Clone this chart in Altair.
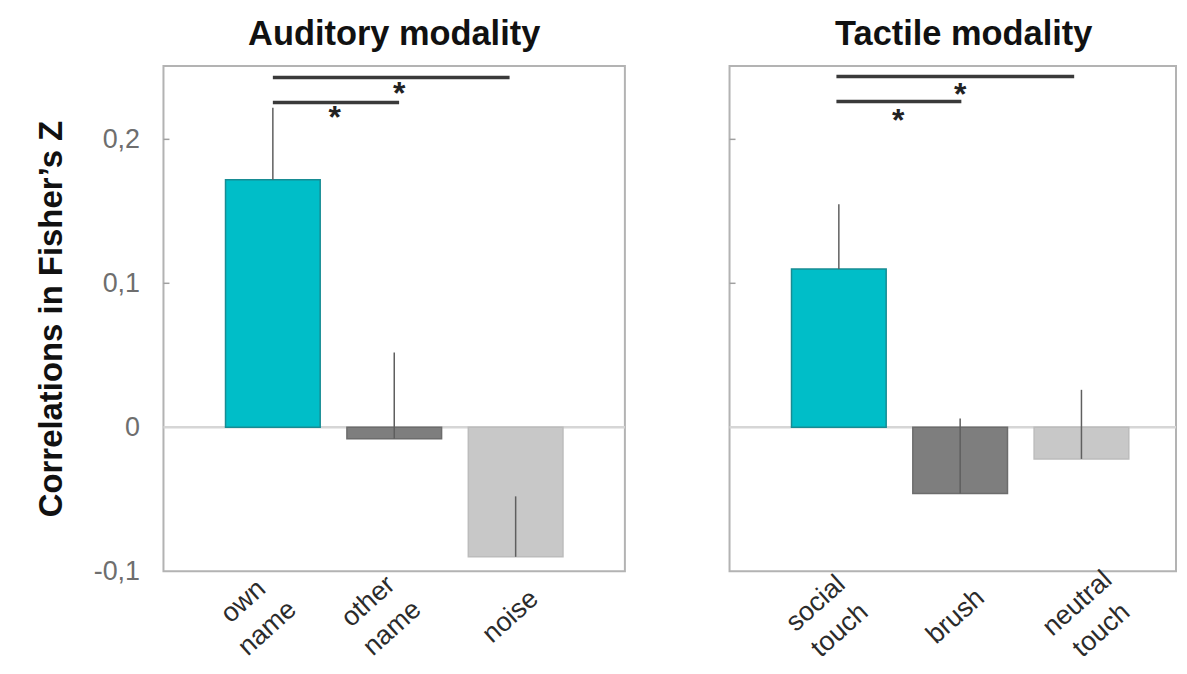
import json
import altair as alt
import pandas as pd

# ---------------- data ----------------
aud_cats = ["own name", "other name", "noise"]
aud_means = [0.172, -0.008, -0.090]
aud_err_top = [0.222, 0.052, -0.048]

tac_cats = ["social touch", "brush", "neutral touch"]
tac_means = [0.110, -0.046, -0.022]
tac_err_top = [0.155, 0.006, 0.026]

# significance brackets (category index start/end, height) and stars
aud_br_start = [0.0, 0.0]
aud_br_end = [1.95, 1.04]
aud_br_y = [0.2430, 0.2256]
aud_star_x = [1.04, 0.51]
aud_star_y = [0.2350, 0.2185]

tac_br_start = [-0.02, -0.02]
tac_br_end = [1.94, 1.01]
tac_br_y = [0.2437, 0.2263]
tac_star_x = [1.0, 0.49]
tac_star_y = [0.2343, 0.2165]

y_ticks = [-0.1, 0, 0.1, 0.2]
inner_ticks = [0.1, 0.2]

# ---------------- styles ----------------
aud_colors = ["#00bec8", "#7e7e7e", "#c8c8c8"]
aud_strokes = ["#178c93", "#6c6c6c", "#bcbcbc"]
tac_colors = ["#00bec8", "#7e7e7e", "#c8c8c8"]
tac_strokes = ["#178c93", "#6c6c6c", "#bcbcbc"]
aud_label_dx = [-30, -26.5, -5.5]
aud_label_pad = [30, 30, 45]
tac_label_dx = [-23.5, -5, -4.5]
tac_label_pad = [32, 45, 32]

FONT = "Liberation Sans"
Y_DOMAIN = [-0.1, 0.251]
STEP = 124.5
H = 507


def per_label(vals):
    return {"condition": [{"test": f"datum.value === {k}", "value": v}
                          for k, v in enumerate(vals[:-1])],
            "value": vals[-1]}


def panel(cats, means, errs, fills, strokes, bs, be, by, sx, sy,
          title, width, show_y, title_dx, ldx, lpad):
    x_dom = [-0.86, -0.86 + width / STEP]
    bars = pd.DataFrame({"i": list(range(len(cats))), "cat": cats,
                         "m": means, "e": errs})
    br = pd.DataFrame({"i": bs, "x2": be, "m": by})
    st = pd.DataFrame({"i": sx, "m": sy, "t": ["*"] * len(sx)})
    zero = pd.DataFrame({"m": [0]})
    tk = pd.DataFrame({"m": inner_ticks})

    xs = alt.Scale(domain=x_dom, nice=False, zero=False)
    ys = alt.Scale(domain=Y_DOMAIN, nice=False, zero=False)

    lines = [c.split(" ") for c in cats]
    x_axis = alt.Axis(values=list(range(len(cats))),
                      labelExpr=json.dumps(lines) + "[datum.value]",
                      labelAngle=318, labelAlign="center", labelBaseline="middle",
                      labelPadding=per_label(lpad),
                      labelOffset=per_label(ldx),
                      labelLineHeight=36,
                      labelFontSize=27, labelColor="#2b2b2b", labelFont=FONT,
                      ticks=False, domain=False, grid=False, title=None)
    if show_y:
        y_axis = alt.Axis(values=y_ticks,
                          labelExpr="replace(toString(datum.value), '.', ',')",
                          ticks=False, domain=False, grid=False,
                          labelPadding=24, labelFontSize=27, labelColor="#6e6e6e",
                          labelFont=FONT,
                          title="Correlations in Fisher’s Z", titleFontSize=33,
                          titleFontWeight="bold", titleColor="#111111",
                          titleFont=FONT, titlePadding=25)
    else:
        y_axis = None

    X = lambda f: alt.X(f, scale=xs, axis=x_axis)
    Y = lambda f: alt.Y(f, scale=ys, axis=y_axis)

    zl = alt.Chart(zero).mark_rule(color="#d6d6d6", strokeWidth=2.5).encode(
        y=Y("m:Q"))
    ticks = alt.Chart(tk).mark_rule(color="#a0a0a0", strokeWidth=1.5).encode(
        y=Y("m:Q"), x=alt.value(0), x2=alt.value(6))
    b = alt.Chart(bars).mark_bar(width=95, orient="vertical", strokeWidth=1.5).encode(
        x=X("i:Q"),
        y=Y("m:Q"),
        color=alt.Color("cat:N", scale=alt.Scale(domain=cats, range=fills), legend=None),
        stroke=alt.Stroke("cat:N", scale=alt.Scale(domain=cats, range=strokes), legend=None),
    )
    eb = alt.Chart(bars).mark_rule(color="#5f5f5f", strokeWidth=1.5).encode(
        x=X("i:Q"), y=Y("m:Q"), y2="e:Q")
    brk = alt.Chart(br).mark_rule(color="#3a3a3a", strokeWidth=3.5).encode(
        x=X("i:Q"), x2="x2:Q", y=Y("m:Q"))
    stars = alt.Chart(st).mark_text(fontSize=32, fontWeight="bold", font=FONT,
                                    baseline="middle", dy=5, color="#222222").encode(
        x=X("i:Q"), y=Y("m:Q"), text="t:N")
    return alt.layer(zl, ticks, b, eb, brk, stars).properties(
        width=width, height=H,
        title=alt.TitleParams(title, fontSize=34.5, fontWeight="bold", font=FONT,
                              color="#111111", dx=title_dx, offset=14))


left = panel(aud_cats, aud_means, aud_err_top, aud_colors, aud_strokes,
             aud_br_start, aud_br_end, aud_br_y, aud_star_x, aud_star_y,
             "Auditory modality", 463, True, 0, aud_label_dx, aud_label_pad)
right = panel(tac_cats, tac_means, tac_err_top, tac_colors, tac_strokes,
              tac_br_start, tac_br_end, tac_br_y, tac_star_x, tac_star_y,
              "Tactile modality", 448, False, 11, tac_label_dx, tac_label_pad)

chart = alt.hconcat(left, right, spacing=99).resolve_scale(
    x="independent", y="independent", color="independent", stroke="independent"
).properties(
    padding={"left": 26, "top": 6, "right": 0, "bottom": 0},
    background="white",
).configure_view(stroke="#b3b3b3", strokeWidth=2)

chart.save("out.html", embed_options={"renderer": "svg", "actions": False})
